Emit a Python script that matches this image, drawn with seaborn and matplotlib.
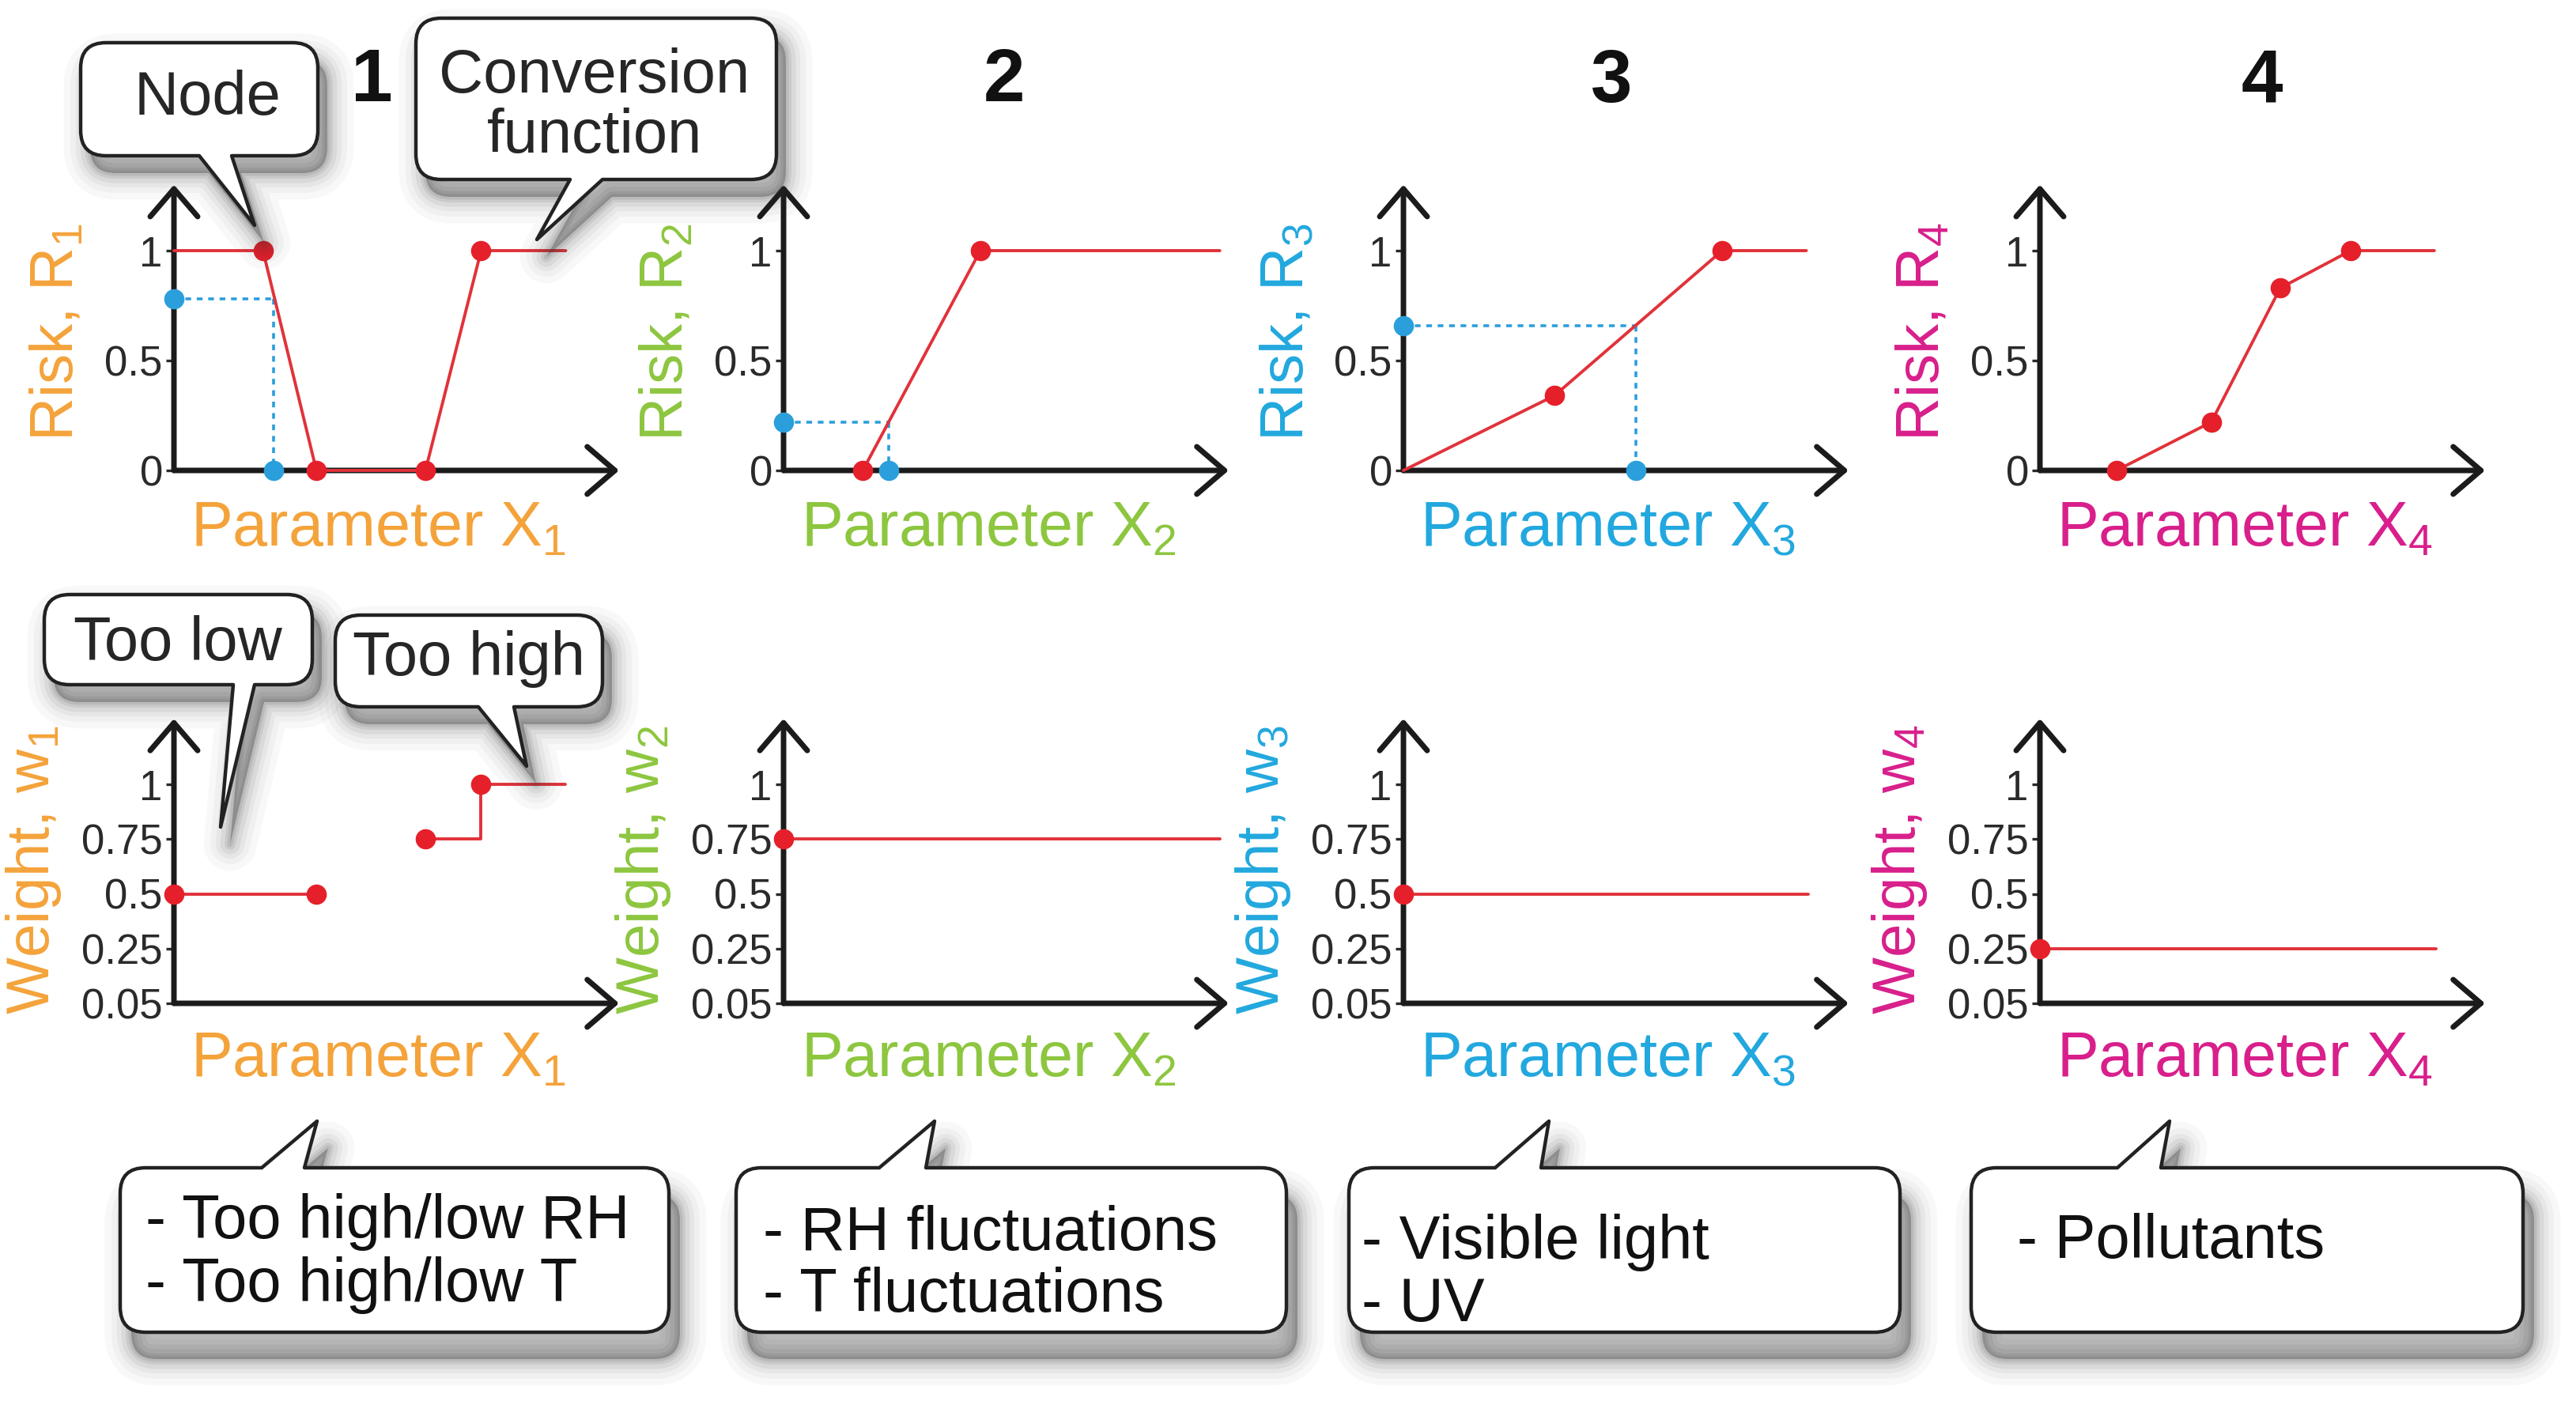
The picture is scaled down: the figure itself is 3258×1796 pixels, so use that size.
import numpy as np
import pandas as pd
import seaborn as sns
import matplotlib.pyplot as plt
from matplotlib.path import Path
from matplotlib.patches import PathPatch

# ---- data (x in arbitrary units along each axis, 0..10) ----
panel_nums = ["1", "2", "3", "4"]
param_colors = ["#F4A33B", "#8DC63F", "#22A8DE", "#D81F8B"]

# conversion functions Risk = f(X)
risk1_x = [0, 2.0, 3.2, 5.65, 6.9, 8.8]
risk1_y = [1, 1, 0, 0, 1, 1]
risk2_x = [1.78, 4.42, 9.8]
risk2_y = [0, 1, 1]
risk3_x = [0, 3.39, 7.16, 9.05]
risk3_y = [0, 0.34, 1, 1]
risk4_x = [1.72, 3.85, 5.4, 6.98, 8.86]
risk4_y = [0, 0.22, 0.83, 1, 1]

# nodes (red dots)
risk1_nodes_x = [2.0, 3.2, 5.65, 6.9]
risk1_nodes_y = [1, 0, 0, 1]
risk2_nodes_x = [1.78, 4.42]
risk2_nodes_y = [0, 1]
risk3_nodes_x = [3.39, 7.16]
risk3_nodes_y = [0.34, 1]
risk4_nodes_x = [1.72, 3.85, 5.4, 6.98]
risk4_nodes_y = [0, 0.22, 0.83, 1]

# example readings (blue dots + dotted guides), panel 4 has none
example_x = [2.24, 2.36, 5.22, None]
example_r = [0.78, 0.22, 0.66, None]

# weights
weight1_x = [0, 3.2, 5.65, 6.9, 6.9, 8.8]
weight1_y = [0.5, 0.5, 0.75, 0.75, 1, 1]
weight1_seg = [0, 0, 1, 1, 1, 1]
weight1_nodes_x = [0, 3.2, 5.65, 6.9]
weight1_nodes_y = [0.5, 0.5, 0.75, 1]
weight_const = [None, 0.75, 0.5, 0.25]
weight_end = [None, 9.8, 9.1, 8.9]

risk_ticks = [0, 0.5, 1]
risk_ticklabels = ["0", "0.5", "1"]
weight_ticks = [0, 0.25, 0.5, 0.75, 1]
weight_ticklabels = ["0.05", "0.25", "0.5", "0.75", "1"]

bottom_notes = [["- Too high/low RH", "- Too high/low T"],
                ["- RH fluctuations", "- T fluctuations"],
                ["- Visible light", "- UV"],
                ["- Pollutants"]]

# ---- layout (pixels of the 3258x1796 canvas) ----
W, H = 3258, 1796
PX = 56.3                      # px per x unit
axis_x_px = [220, 991, 1775, 2580]
top_y0, top_py = 595, 278      # pixel of y=0 and px per unit, top row
bot_y0, bot_py = 1269, 277
XLIM = (0, 10.3)
YLIM = (-0.15, 1.33)

LINE_RED = "#E1323A"
DOT_RED = "#E5202A"
BLUE = "#2A9FDB"
AX_COL = "#1b1b1b"

sns.set_style("white")
plt.rcParams["font.family"] = ["Liberation Sans", "DejaVu Sans"]
plt.rcParams["mathtext.fontset"] = "custom"
plt.rcParams["mathtext.rm"] = "Liberation Sans"

fig = plt.figure(figsize=(W / 200, H / 200), dpi=200)


def add_panel(xpx, y0, py):
    left = xpx + XLIM[0] * PX
    width = (XLIM[1] - XLIM[0]) * PX
    bottom = y0 - YLIM[0] * py
    height = (YLIM[1] - YLIM[0]) * py
    ax = fig.add_axes([left / W, 1 - bottom / H, width / W, height / H])
    ax.set_xlim(*XLIM)
    ax.set_ylim(*YLIM)
    ax.patch.set_alpha(0)
    for s in ax.spines.values():
        s.set_visible(False)
    ax.set_xticks([])
    arrow = dict(arrowstyle="->,head_length=0.42,head_width=0.36", lw=2.5,
                 color=AX_COL, shrinkA=0, shrinkB=0, mutation_scale=30)
    ax.annotate("", xy=(10.0, 0), xytext=(0, 0), arrowprops=arrow, annotation_clip=False)
    ax.annotate("", xy=(0, 1.30), xytext=(0, 0), arrowprops=arrow, annotation_clip=False)
    ax.tick_params(axis="y", length=3.6, width=1.2, pad=1.5, labelsize=19,
                   colors="#2a2a2a", left=True)
    return ax


def dots(ax, xs, ys, color):
    sns.scatterplot(x=xs, y=ys, ax=ax, color=color, s=85, linewidth=0,
                    zorder=6, clip_on=False, legend=False)


risk_x = [risk1_x, risk2_x, risk3_x, risk4_x]
risk_y = [risk1_y, risk2_y, risk3_y, risk4_y]
node_x = [risk1_nodes_x, risk2_nodes_x, risk3_nodes_x, risk4_nodes_x]
node_y = [risk1_nodes_y, risk2_nodes_y, risk3_nodes_y, risk4_nodes_y]

for i in range(4):
    c = param_colors[i]
    sub = "$_\\mathregular{%d}$" % (i + 1)

    # ---- risk row ----
    ax = add_panel(axis_x_px[i], top_y0, top_py)
    df = pd.DataFrame({"x": risk_x[i], "y": risk_y[i]})
    sns.lineplot(data=df, x="x", y="y", ax=ax, color=LINE_RED, lw=1.4,
                 sort=False, estimator=None, clip_on=False, zorder=4)
    dots(ax, node_x[i], node_y[i], DOT_RED)
    if example_x[i] is not None:
        ex, er = example_x[i], example_r[i]
        ax.plot([0, ex], [er, er], ls=(0, (2, 2)), color=BLUE, lw=1.3, zorder=3)
        ax.plot([ex, ex], [er, 0], ls=(0, (2, 2)), color=BLUE, lw=1.3, zorder=3)
        dots(ax, [0, ex], [er, 0], BLUE)
    ax.set_yticks(risk_ticks)
    ax.set_yticklabels(risk_ticklabels)
    ax.set_xlabel("")
    ax.set_ylabel("")
    ax.text(4.6, -0.27, "Parameter X" + sub, color=c, fontsize=28.5,
            ha="center", va="center")
    ax.text(-2.62, 0.63, "Risk, R" + sub, color=c, fontsize=27.5,
            rotation=90, ha="center", va="center")

    # ---- weight row ----
    ax = add_panel(axis_x_px[i], bot_y0, bot_py)
    if i == 0:
        df = pd.DataFrame({"x": weight1_x, "y": weight1_y, "seg": weight1_seg})
        sns.lineplot(data=df, x="x", y="y", units="seg", ax=ax, color=LINE_RED,
                     lw=1.4, sort=False, estimator=None, clip_on=False, zorder=4)
        dots(ax, weight1_nodes_x, weight1_nodes_y, DOT_RED)
    else:
        df = pd.DataFrame({"x": [0, weight_end[i]], "y": [weight_const[i]] * 2})
        sns.lineplot(data=df, x="x", y="y", ax=ax, color=LINE_RED, lw=1.4,
                     sort=False, estimator=None, clip_on=False, zorder=4)
        dots(ax, [0], [weight_const[i]], DOT_RED)
    ax.set_yticks(weight_ticks)
    ax.set_yticklabels(weight_ticklabels)
    ax.set_xlabel("")
    ax.set_ylabel("")
    ax.text(4.6, -0.26, "Parameter X" + sub, color=c, fontsize=28.5,
            ha="center", va="center")
    ax.text(-3.15, 0.61, "Weight, w" + sub, color=c, fontsize=27.5,
            rotation=90, ha="center", va="center")

# panel numbers
for num, (nx, ny) in zip(panel_nums, [(470, 104), (1270, 104), (2038, 104), (2861, 104)]):
    fig.text(nx / W, 1 - ny / H, num, fontsize=34, fontweight="bold",
             ha="center", va="center", color="#111111")

# ---- speech bubbles, drawn on a pixel overlay ----
ov = fig.add_axes([0, 0, 1, 1])
ov.set_xlim(0, W)
ov.set_ylim(H, 0)
ov.axis("off")


def bubble_path(x0, y0, x1, y1, r, side, bx0, bx1, tx, ty):
    v, c = [], []
    M, L, C = Path.MOVETO, Path.LINETO, Path.CURVE3
    v += [(x0 + r, y0)]; c += [M]
    if side == "top":
        v += [(bx0, y0), (tx, ty), (bx1, y0)]; c += [L, L, L]
    v += [(x1 - r, y0), (x1, y0), (x1, y0 + r)]; c += [L, C, C]
    v += [(x1, y1 - r), (x1, y1), (x1 - r, y1)]; c += [L, C, C]
    if side == "bottom":
        v += [(bx1, y1), (tx, ty), (bx0, y1)]; c += [L, L, L]
    v += [(x0 + r, y1), (x0, y1), (x0, y1 - r)]; c += [L, C, C]
    v += [(x0, y0 + r), (x0, y0), (x0 + r, y0)]; c += [L, C, C]
    v += [(x0 + r, y0)]; c += [Path.CLOSEPOLY]
    return Path(v, c)


def bubble(box, tail, side, dx=14, dy=34):
    x0, y0, x1, y1 = box
    bx0, bx1, tx, ty = tail
    p = bubble_path(x0, y0, x1, y1, 32, side, bx0, bx1, tx, ty)
    ps = bubble_path(x0 + dx, y0 + dy, x1 + dx, y1 + dy, 32, side,
                     bx0 + dx, bx1 + dx, tx + dx, ty + dy)
    ov.add_patch(PathPatch(ps, facecolor="#3a3a3a", edgecolor="none", alpha=0.32))
    for lw, a in [(24, 0.03), (18, 0.04), (13, 0.05), (9, 0.07), (5, 0.09), (2.5, 0.1)]:
        ov.add_patch(PathPatch(ps, facecolor="none", edgecolor="#333333",
                               lw=lw, alpha=a, joinstyle="round"))
    ov.add_patch(PathPatch(p, facecolor="white", edgecolor="#222222", lw=1.6,
                           joinstyle="round"))


# top callouts
bubble((102, 54, 402, 197), (252, 293, 322, 285), "bottom", dx=12, dy=22)
bubble((526, 23, 982, 227), (721, 762, 679, 303), "bottom", dx=12, dy=22)
bubble((56, 752, 395, 866), (295, 322, 279, 1046), "bottom", dx=12, dy=22)
bubble((424, 778, 762, 894), (605, 650, 666, 969), "bottom", dx=12, dy=22)
ov.text(263, 117, "Node", fontsize=28, ha="center", va="center_baseline")
ov.text(752, 88, "Conversion", fontsize=28, ha="center", va="center_baseline")
ov.text(752, 164, "function", fontsize=28, ha="center", va="center_baseline")
ov.text(225, 807, "Too low", fontsize=28, ha="center", va="center_baseline")
ov.text(593, 826, "Too high", fontsize=28, ha="center", va="center_baseline")

# bottom notes
note_boxes = [(152, 1477, 846, 1685), (931, 1477, 1627, 1685),
              (1706, 1477, 2403, 1685), (2493, 1477, 3191, 1685)]
note_tails = [(331, 385, 401, 1418), (1112, 1171, 1182, 1418),
              (1891, 1949, 1959, 1418), (2678, 2733, 2744, 1418)]
note_text_x = [184, 965, 1722, 2551]
note_text_y = [[1537, 1618], [1552, 1630], [1563, 1642], [1562]]
for i in range(4):
    bubble(note_boxes[i], note_tails[i], "top")
    for line, ly in zip(bottom_notes[i], note_text_y[i]):
        ov.text(note_text_x[i], ly, line, fontsize=28, ha="left",
                va="center_baseline", color="#111111")

fig.savefig("out.png", dpi=200)
